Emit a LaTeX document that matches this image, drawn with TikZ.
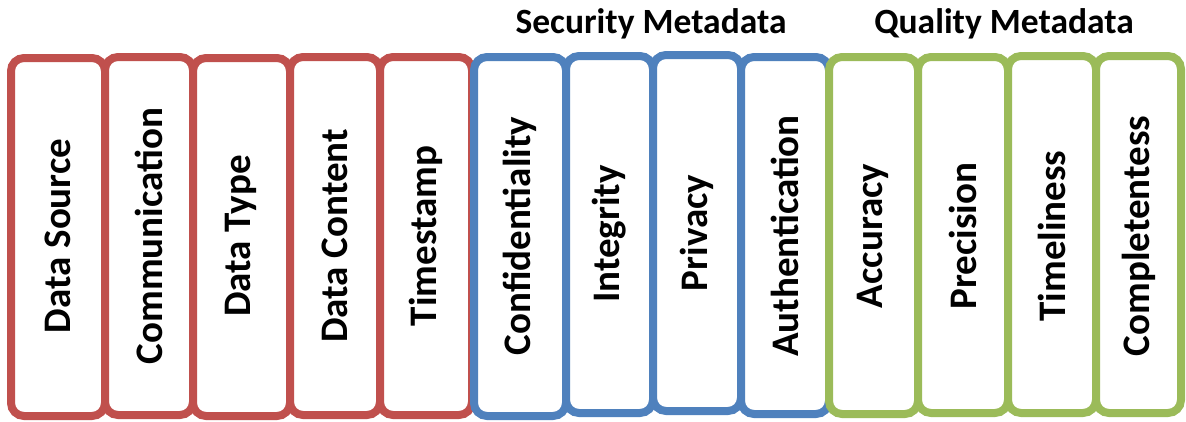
\documentclass[tikz,border=0pt]{standalone}
\usepackage{fontspec}
\setmainfont{Carlito}
\definecolor{mred}{RGB}{192,80,77}
\definecolor{mblue}{RGB}{79,129,189}
\definecolor{mgreen}{RGB}{155,187,89}
\begin{document}
\begin{tikzpicture}[x=1pt,y=-1pt,
  boxst/.style={draw=#1,line width=8pt,rounded corners=13pt,fill=white},
  lbl/.style={rotate=90,font=\fontsize{39}{40}\selectfont\bfseries,inner sep=0pt},
  ttl/.style={font=\fontsize{35.5}{36}\selectfont\bfseries,inner sep=0pt}]
\useasboundingbox (0,0) rectangle (1186,421);
% red
\draw[boxst=mred] (11,58) rectangle (105,416);
\node[lbl] (t1) at (58,236) {Data Source};
\draw[boxst=mred] (105,57) rectangle (193,415);
\node[lbl] (t2) at (149,236) {Communication};
\draw[boxst=mred] (193,58) rectangle (290,416);
\node[lbl] (t3) at (241,236) {Data Type};
\draw[boxst=mred] (290,57) rectangle (380,415);
\node[lbl] (t4) at (335,236) {Data Content};
\draw[boxst=mred] (380,57) rectangle (472,415);
\node[lbl] (t5) at (426,236) {Timestamp};
% blue
\draw[boxst=mblue] (474,57) rectangle (566,416);
\node[lbl] (t6) at (520,236) {Confidentiality};
\draw[boxst=mblue] (566,56) rectangle (653,413);
\node[lbl] (t7) at (609,234) {Integrity};
\draw[boxst=mblue] (653,55) rectangle (741,411);
\node[lbl] (t8) at (697,233) {Privacy};
\draw[boxst=mblue] (741,57) rectangle (829,414);
\node[lbl] (t9) at (785,236) {Authentication};
% green
\draw[boxst=mgreen] (829,57) rectangle (918,414);
\node[lbl] (t10) at (873,236) {Accuracy};
\draw[boxst=mgreen] (918,57) rectangle (1008,413);
\node[lbl] (t11) at (963,236) {Precision};
\draw[boxst=mgreen] (1008,56) rectangle (1096,413);
\node[lbl] (t12) at (1052,236) {Timeliness};
\draw[boxst=mgreen] (1096,56) rectangle (1181,413);
\node[lbl] (t13) at (1139,236) {Completentess};
% titles
\node[ttl] (sec) at (651,24) {Security Metadata};
\node[ttl] (qual) at (1004,24) {Quality Metadata};
\end{tikzpicture}
\end{document}
